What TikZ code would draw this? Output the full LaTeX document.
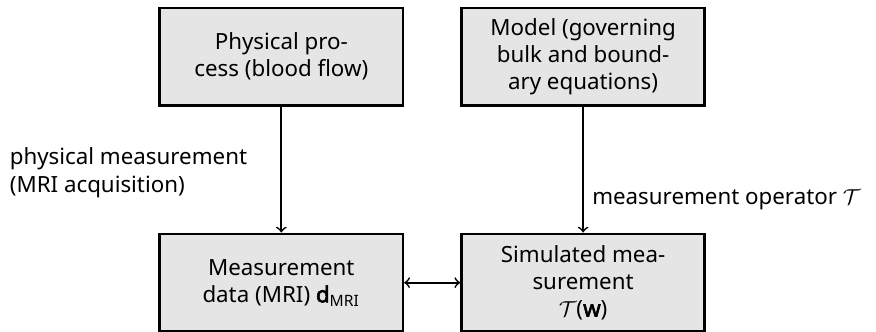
\documentclass[tikz,border=0pt]{standalone}
\usepackage{fontspec}
\setmainfont{Noto Sans}[AutoFakeBold=2.5]
\tikzset{
  procbox/.style={draw=black, line width=1.1pt, fill=gray!20, minimum width=3.56cm,
    minimum height=1.43cm, align=center, inner sep=2pt},
  flowarrow/.style={->, line width=0.7pt}
}
\begin{document}
\begin{tikzpicture}[scale=1, font=\fontsize{9.3}{11.3}\selectfont]
        \useasboundingbox (0,0) rectangle (12.83,4.85);

        \node[procbox] (process) at (4.12,4.02) {Physical pro-\\cess (blood flow)};
        \node[procbox] (model) at (8.54,4.02) {Model (governing\\bulk and bound-\\ary equations)};
        \node[procbox] (data) at (4.12,0.71) {Measurement\\data (MRI) \textbf{d}\textsubscript{MRI}};
        \node[procbox] (sim) at (8.54,0.71) {Simulated mea-\\surement\\$\mathcal{T}$(\textbf{w})};

        \node[anchor=west, align=left] (acq) at (0.02,2.32) {physical measurement\\(MRI acquisition)};
        \node[anchor=west] (op) at (8.55,1.92) {measurement operator $\mathcal{T}$};

        \draw[flowarrow] (process) -- (data);
        \draw[flowarrow] (model) -- (sim);
        \draw[flowarrow, <->] (data) -- (sim);
    \end{tikzpicture}
\end{document}
